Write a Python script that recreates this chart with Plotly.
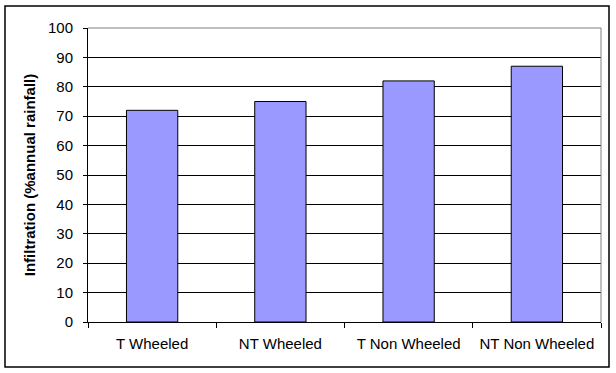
import plotly.graph_objects as go

categories = ["T Wheeled", "NT Wheeled", "T Non Wheeled", "NT Non Wheeled"]
infiltration = [72, 75, 82, 87]
y_ticks = [0, 10, 20, 30, 40, 50, 60, 70, 80, 90, 100]

W, H = 616, 373
L, R, T, B = 88, 15, 28, 51
pw, ph = W - L - R, H - T - B

fig = go.Figure()
fig.add_trace(go.Bar(
    x=categories, y=infiltration,
    marker=dict(color="#9999FF", line=dict(color="black", width=1)),
    width=0.4,
))

font = dict(family="Liberation Sans, Arial, sans-serif", size=15, color="black")

fig.update_layout(
    width=W, height=H,
    margin=dict(l=L, r=R, t=T, b=B),
    paper_bgcolor="white", plot_bgcolor="white",
    font=font, showlegend=False,
    bargap=0.6,
    xaxis=dict(
        showline=True, linecolor="black", linewidth=1,
        ticks="outside", ticklen=5, tickcolor="black",
        tickson="boundaries", showgrid=False,
        tickfont=font, mirror=False, ticklabelstandoff=8,
    ),
    yaxis=dict(
        range=[0, 100], tickvals=y_ticks, ticktext=[str(v) for v in y_ticks],
        showline=True, linecolor="black", linewidth=1,
        ticks="outside", ticklen=4, tickcolor="black",
        showgrid=True, gridcolor="black", gridwidth=1,
        zeroline=False, tickfont=font, ticklabelstandoff=7,
        title=dict(text="<b>Infiltration (%annual rainfall)</b>",
                   font=dict(family="Liberation Sans, Arial, sans-serif", size=15, color="black"),
                   standoff=8),
    ),
)

# grey plot-area border on top and right
fig.add_shape(type="line", xref="paper", yref="paper", x0=0, x1=1, y0=1, y1=1,
              line=dict(color="#808080", width=1))
fig.add_shape(type="line", xref="paper", yref="paper", x0=1, x1=1, y0=0, y1=1,
              line=dict(color="#808080", width=1))

# outer chart border
fig.add_shape(type="rect", xref="paper", yref="paper",
              x0=(5 - L) / pw, x1=(609 - L) / pw,
              y0=(T + ph - 367) / ph, y1=(T + ph - 6) / ph,
              line=dict(color="black", width=1.5), fillcolor="rgba(0,0,0,0)")

fig.write_html("out.html")
